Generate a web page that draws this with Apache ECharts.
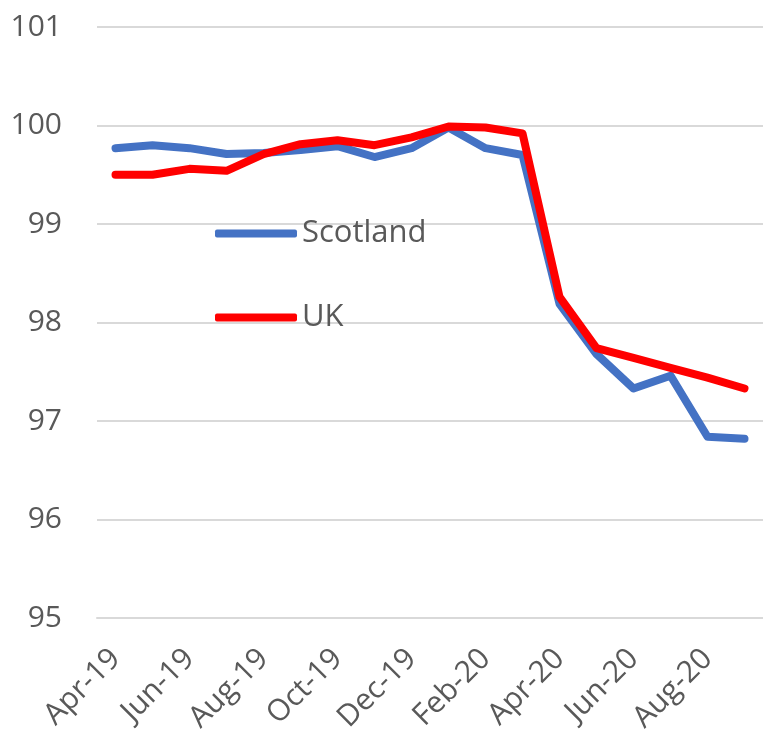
<!DOCTYPE html>
<html>
<head>
<meta charset="utf-8">
<script src="https://cdn.jsdelivr.net/npm/echarts@6/dist/echarts.min.js"></script>
<style>html,body{margin:0;padding:0;background:#fff}#c{width:763px;height:742px}</style>
</head>
<body>
<div id="c"></div>
<script>
const categories = ['Apr-19','May-19','Jun-19','Jul-19','Aug-19','Sep-19','Oct-19','Nov-19','Dec-19','Jan-20','Feb-20','Mar-20','Apr-20','May-20','Jun-20','Jul-20','Aug-20','Sep-20'];
const scotland = [99.77,99.80,99.77,99.71,99.72,99.75,99.79,99.68,99.77,99.98,99.77,99.70,98.19,97.68,97.33,97.46,96.84,96.82];
const uk = [99.50,99.50,99.56,99.54,99.71,99.81,99.85,99.80,99.88,99.99,99.98,99.92,98.26,97.74,97.64,97.54,97.44,97.33];
const yTicks = {min:95, max:101, interval:1};

const font = 'Open Sans';
const chart = echarts.init(document.getElementById('c'));
chart.setOption({
  animation:false,
  backgroundColor:'#fff',
  grid:{left:97, top:27, width:677, height:591},
  legend:{
    orient:'vertical', left:210, top:213, itemWidth:82, itemHeight:8, itemGap:53,
    icon:'roundRect',
    textStyle:{fontFamily:font, fontSize:31, color:'#595959', lineHeight:30, padding:[0,0,0,0]},
    data:['Scotland','UK']
  },
  xAxis:{
    type:'category', data:categories, boundaryGap:true,
    axisLine:{lineStyle:{color:'#d9d9d9', width:2}},
    axisTick:{show:false},
    axisLabel:{interval:1, rotate:45, margin:36, fontFamily:font, fontSize:30, color:'#595959'}
  },
  yAxis:{
    type:'value', min:yTicks.min, max:yTicks.max, interval:yTicks.interval,
    axisLine:{show:false}, axisTick:{show:false},
    splitLine:{lineStyle:{color:'#d9d9d9', width:2}},
    axisLabel:{margin:35, fontFamily:font, fontSize:30, color:'#595959'}
  },
  series:[
    {name:'Scotland', type:'line', data:scotland, symbol:'none', color:'#4472C4',
     lineStyle:{width:8, color:'#4472C4', cap:'round', join:'round'}},
    {name:'UK', type:'line', data:uk, symbol:'none', color:'#FF0000',
     lineStyle:{width:8, color:'#FF0000', cap:'round', join:'round'}}
  ]
});
</script>
</body>
</html>
